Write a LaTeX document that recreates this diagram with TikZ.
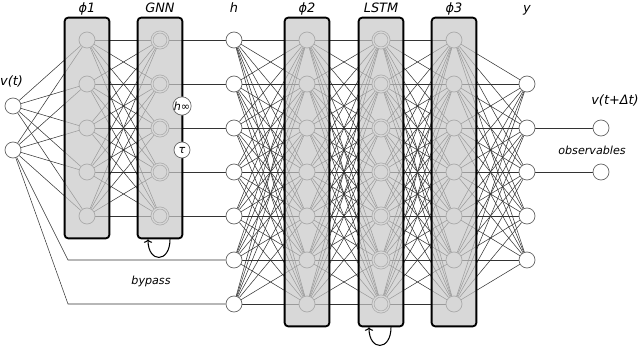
\documentclass[tikz,border=0pt]{standalone}
\usepackage{fontspec}
\setmainfont{DejaVu Sans}
\usepackage{tikz}
\usetikzlibrary{arrows.meta, positioning, fit}
\pgfdeclarelayer{edges}
\pgfdeclarelayer{inner}
\pgfdeclarelayer{boxes}
\pgfsetlayers{edges,inner,boxes,main}

\begin{document}
\begin{tikzpicture}[
    x=0.03cm, y=-0.03cm,
    neuron/.style={circle, draw=black!60, line width=0.6pt, fill=white, minimum size=0.48cm, inner sep=0pt},
    memory/.style={neuron, double, double distance=1.1pt},
    param/.style={neuron, font=\fontsize{9.5}{10}\selectfont\itshape},
    layerbox/.style={draw=black, line width=1.6pt, fill=black!22, fill opacity=0.7, rounded corners=3pt, inner sep=0.42cm},
    link/.style={draw=black!80, line width=0.45pt},
    layername/.style={font=\fontsize{11}{13}\selectfont\itshape, anchor=base},
    note/.style={font=\fontsize{9.5}{11}\selectfont\itshape, anchor=base},
    feedback/.style={line width=0.9pt, -{To[length=3pt, width=7pt]}}
]
\useasboundingbox (0,0) rectangle (640,346);

% Neurons inside the boxes
\begin{pgfonlayer}{inner}
\foreach \i in {1,...,5} {
    \node [neuron] (phi1-\i) at (87,{40+44*(\i-1)}) {};
    \node [memory] (gnn-\i) at (160,{40+44*(\i-1)}) {};
}
\foreach \i in {1,...,7} {
    \node [neuron] (phi2-\i) at (307,{40+44*(\i-1)}) {};
    \node [memory] (lstm-\i) at (381,{40+44*(\i-1)}) {};
    \node [neuron] (phi3-\i) at (454,{40+44*(\i-1)}) {};
}
\end{pgfonlayer}

% Free neurons
\node [neuron] (in1) at (13,106) {};
\node [neuron] (in2) at (13,150) {};
\foreach \i in {1,...,7}
    \node [neuron] (h-\i) at (234,{40+44*(\i-1)}) {};
\foreach \i in {2,...,6}
    \node [neuron] (y-\i) at (527,{40+44*(\i-1)}) {};
\node [neuron] (out1) at (601,128) {};
\node [neuron] (out2) at (601,172) {};

% Connections
\begin{pgfonlayer}{edges}
\foreach \i in {1,2}
    \foreach \j in {1,...,5}
        \draw [link] (in\i) -- (phi1-\j);
\foreach \i in {1,...,5} {
    \foreach \j in {1,...,5}
        \draw [link] (phi1-\i) -- (gnn-\j);
    \draw [link] (gnn-\i) -- (h-\i);
}
\foreach \i in {1,...,7}
    \foreach \j in {1,...,7} {
        \draw [link] (h-\i) -- (phi2-\j);
        \draw [link] (phi2-\i) -- (lstm-\j);
        \draw [link] (lstm-\i) -- (phi3-\j);
    }
\foreach \i in {1,...,7}
    \foreach \j in {2,...,6}
        \draw [link] (phi3-\i) -- (y-\j);
\draw [link] (y-3) -- (out1);
\draw [link] (y-4) -- (out2);
% bypass
\draw [link] (in2) -- (68,260) -- (h-6);
\draw [link] (in2) -- (68,304) -- (h-7);
\end{pgfonlayer}

% Layer boxes
\begin{pgfonlayer}{boxes}
\node [layerbox, fit=(phi1-1)(phi1-5)] (phi1box) {};
\node [layerbox, fit=(gnn-1)(gnn-5)] (gnnbox) {};
\node [layerbox, fit=(phi2-1)(phi2-7)] (phi2box) {};
\node [layerbox, fit=(lstm-1)(lstm-7)] (lstmbox) {};
\node [layerbox, fit=(phi3-1)(phi3-7)] (phi3box) {};
\end{pgfonlayer}

\node [param] (hinf) at (182,106) {h∞};
\node [param] (tau) at (182,150) {τ};

% Recurrences
\draw [feedback] ([xshift=0.3cm]gnnbox.south) .. controls +(0cm,-0.72cm) and +(0cm,-0.72cm) .. ([xshift=-0.36cm]gnnbox.south);
\draw [feedback] ([xshift=0.3cm]lstmbox.south) .. controls +(0cm,-0.72cm) and +(0cm,-0.72cm) .. ([xshift=-0.36cm]lstmbox.south);

% Labels
\node [layername] (lphi1) at (87,13) {ϕ1};
\node [layername] (lgnn) at (160,13) {GNN};
\node [layername] (lh) at (234,13) {h};
\node [layername] (lphi2) at (307,13) {ϕ2};
\node [layername] (llstm) at (381,13) {LSTM};
\node [layername] (lphi3) at (454,13) {ϕ3};
\node [layername] (ly) at (527,13) {y};
\node [layername, anchor=base west, inner sep=0pt] (lin) at (0,86) {v(t)};
\node [layername, anchor=base east, inner sep=0pt] (lout) at (639,105) {v(t+Δt)};
\node [note] (lobs) at (592,155) {observables};
\node [note] (lbypass) at (151,285) {bypass};
\end{tikzpicture}
\end{document}
